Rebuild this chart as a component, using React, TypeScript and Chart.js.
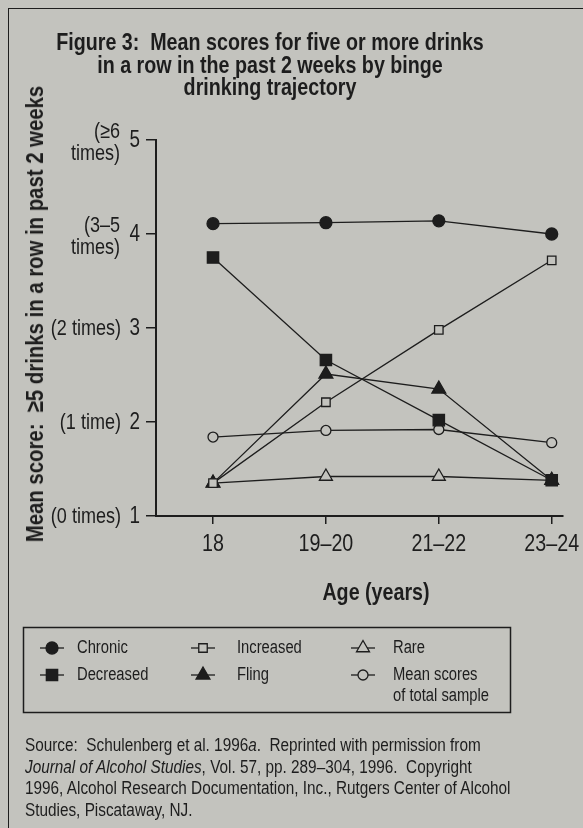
import React, { useEffect, useRef } from "react";
import { Chart, registerables } from "chart.js";
import { drawPoint } from "chart.js/helpers";

Chart.register(...registerables);

// ---------- data ----------
const ages = ["18", "19–20", "21–22", "23–24"];
const chronic = [4.11, 4.12, 4.14, 4.0];
const decreased = [3.75, 2.66, 2.02, 1.38];
const increased = [1.35, 2.21, 2.98, 3.72];
const fling = [1.35, 2.51, 2.35, 1.38];
const rare = [1.35, 1.42, 1.42, 1.38];
const meanTotal = [1.84, 1.91, 1.92, 1.78];

const seriesLabels = ["Chronic", "Decreased", "Increased", "Fling", "Rare", "Mean scores\nof total sample"];
const yTickValues = [1, 2, 3, 4, 5];
const yTickNotes = [["(0 times)"], ["(1 time)"], ["(2 times)"], ["(3–5", "times)"], ["(≥6", "times)"]];

const titleLines = [
  "Figure 3:  Mean scores for five or more drinks",
  "in a row in the past 2 weeks by binge",
  "drinking trajectory",
];
const yTitle = "Mean score:  ≥5 drinks in a row in past 2 weeks";
const xTitle = "Age (years)";

// ---------- styles ----------
const FONT = "'Liberation Sans', Arial, Helvetica, sans-serif";
const SX = 0.82; // horizontal condensing of the Helvetica-like face
const INK = "#1d1d1d";
const BG = "#c3c3be";
const W = 583;
const H = 828;

const pointStyles = [
  { pointStyle: "circle", radius: 6, fill: INK },
  { pointStyle: "rect", radius: 8, fill: INK },
  { pointStyle: "rect", radius: 6, fill: BG },
  { pointStyle: "triangle", radius: 8, fill: INK },
  { pointStyle: "triangle", radius: 7.5, fill: BG },
  { pointStyle: "circle", radius: 5, fill: BG },
];
const seriesData = [chronic, decreased, increased, fling, rare, meanTotal];

function condensedText(ctx: any, text: string, x: number, y: number, align: string, font: string) {
  ctx.save();
  ctx.translate(x, y);
  ctx.scale(SX, 1);
  ctx.font = font;
  ctx.textAlign = align;
  ctx.textBaseline = "middle";
  ctx.fillStyle = INK;
  ctx.fillText(text, 0, 0);
  ctx.restore();
}

const axisTextPlugin = {
  id: "axisText",
  afterDraw(chart: any) {
    const ctx = chart.ctx;
    const y = chart.scales.y;
    const x = chart.scales.x;
    const yTickFont = `23px ${FONT}`;
    const xTickFont = `24px ${FONT}`;
    const noteFont = `22px ${FONT}`;
    yTickValues.forEach((v, i) => {
      const py = y.getPixelForValue(v);
      condensedText(ctx, String(v), 140, py + 1, "right", yTickFont);
      const lines = yTickNotes[i];
      if (lines.length === 1) {
        condensedText(ctx, lines[0], 121, py + 1, "right", noteFont);
      } else {
        condensedText(ctx, lines[0], 120, py - 8, "right", noteFont);
        condensedText(ctx, lines[1], 120, py + 14, "right", noteFont);
      }
    });
    ages.forEach((a, i) => {
      condensedText(ctx, a, x.getPixelForValue(i), 544, "center", xTickFont);
    });
  },
};

const legendPlugin = {
  id: "boxLegend",
  afterDraw(chart: any) {
    const ctx = chart.ctx;
    const symX = [52, 203, 363];
    const textX = [77, 237, 393];
    const rowY = [648, 675];
    ctx.save();
    ctx.strokeStyle = INK;
    ctx.lineWidth = 1.5;
    ctx.strokeRect(23.5, 627.5, 487, 85);
    chart.data.datasets.forEach((ds: any, i: number) => {
      const col = Math.floor(i / 2);
      const row = i % 2;
      const cx = symX[col];
      const cy = rowY[row];
      ctx.strokeStyle = INK;
      ctx.lineWidth = 1.3;
      ctx.beginPath();
      ctx.moveTo(cx - 12, cy);
      ctx.lineTo(cx + 12, cy);
      ctx.stroke();
      ctx.fillStyle = ds.pointBackgroundColor;
      ctx.strokeStyle = INK;
      ctx.lineWidth = ds.pointBorderWidth;
      drawPoint(ctx, { pointStyle: ds.pointStyle, radius: ds.pointRadius, rotation: 0, borderWidth: ds.pointBorderWidth }, cx, cy);
      String(ds.label).split("\n").forEach((ln, k) => {
        condensedText(ctx, ln, textX[col], cy + k * 21, "left", `18px ${FONT}`);
      });
    });
    ctx.restore();
  },
};

function ChartCanvas() {
  const ref = useRef<HTMLCanvasElement | null>(null);
  useEffect(() => {
    if (!ref.current) return;
    const chart = new Chart(ref.current, {
      type: "line",
      data: {
        datasets: seriesData.map((arr, i) => ({
          label: seriesLabels[i],
          data: arr.map((v, k) => ({ x: k, y: v })),
          borderColor: INK,
          borderWidth: 1.3,
          pointStyle: pointStyles[i].pointStyle as any,
          pointRadius: pointStyles[i].radius,
          pointBackgroundColor: pointStyles[i].fill,
          pointBorderColor: INK,
          pointBorderWidth: 1.3,
          fill: false,
          tension: 0,
        })),
      },
      options: {
        animation: false,
        responsive: false,
        maintainAspectRatio: false,
        layout: { padding: { left: 18, right: 20, top: 140, bottom: H - 516 - 40 } },
        plugins: { legend: { display: false }, tooltip: { enabled: false }, title: { display: false } },
        scales: {
          x: {
            type: "linear",
            min: -0.505,
            max: 3.1,
            afterBuildTicks: (s: any) => {
              s.ticks = ages.map((_, i) => ({ value: i }));
            },
            afterFit: (s: any) => {
              s.height = 40;
            },
            ticks: { display: false },
            grid: { drawOnChartArea: false, drawTicks: true, tickLength: 8, color: INK, lineWidth: 1.5 },
            border: { display: true, color: INK, width: 2 },
          },
          y: {
            type: "linear",
            min: 1,
            max: 5,
            afterBuildTicks: (s: any) => {
              s.ticks = yTickValues.map((v) => ({ value: v }));
            },
            afterFit: (s: any) => {
              s.width = 138;
            },
            ticks: { display: false },
            grid: { drawOnChartArea: false, drawTicks: true, tickLength: 10, color: INK, lineWidth: 1.5 },
            border: { display: true, color: INK, width: 2 },
          },
        },
      },
      plugins: [axisTextPlugin, legendPlugin],
    } as any);
    return () => chart.destroy();
  }, []);
  return <canvas ref={ref} width={W} height={H} style={{ position: "absolute", left: 0, top: 0, width: W, height: H }} />;
}

export default function App() {
  return (
    <div style={{ position: "absolute", left: 0, top: 0, width: W, height: H, background: BG, overflow: "hidden", color: INK, fontFamily: FONT }}>
      <div style={{ position: "absolute", left: 8, top: 8, width: 700, height: 900, borderLeft: `1.5px solid ${INK}`, borderTop: `1.5px solid ${INK}` }} />
      <ChartCanvas />
      <div style={{ position: "absolute", left: 0, top: 31, width: 540, textAlign: "center", fontWeight: "bold", fontSize: 24, lineHeight: "22.5px", transform: `scaleX(${SX})`, transformOrigin: "270px 0", whiteSpace: "pre" }}>
        {titleLines.map((t, i) => (
          <div key={i}>{t}</div>
        ))}
      </div>
      <div style={{ position: "absolute", left: 35, top: 314, transform: `translate(-50%, -50%) rotate(-90deg) scaleX(${SX})`, whiteSpace: "pre", fontWeight: "bold", fontSize: 24.8, lineHeight: "26px" }}>
        {yTitle}
      </div>
      <div style={{ position: "absolute", left: 376, top: 592, transform: `translate(-50%, -50%) scaleX(${SX})`, whiteSpace: "nowrap", fontWeight: "bold", fontSize: 24, lineHeight: "26px" }}>
        {xTitle}
      </div>
      <div style={{ position: "absolute", left: 25, top: 734, fontSize: 18.7, lineHeight: "21.7px", whiteSpace: "pre", transform: `scaleX(${SX})`, transformOrigin: "0 0" }}>
        <div>Source:  Schulenberg et al. 1996<i>a</i>.  Reprinted with permission from</div>
        <div><i>Journal of Alcohol Studies</i>, Vol. 57, pp. 289–304, 1996.  Copyright</div>
        <div>1996, Alcohol Research Documentation, Inc., Rutgers Center of Alcohol</div>
        <div>Studies, Piscataway, NJ.</div>
      </div>
    </div>
  );
}
